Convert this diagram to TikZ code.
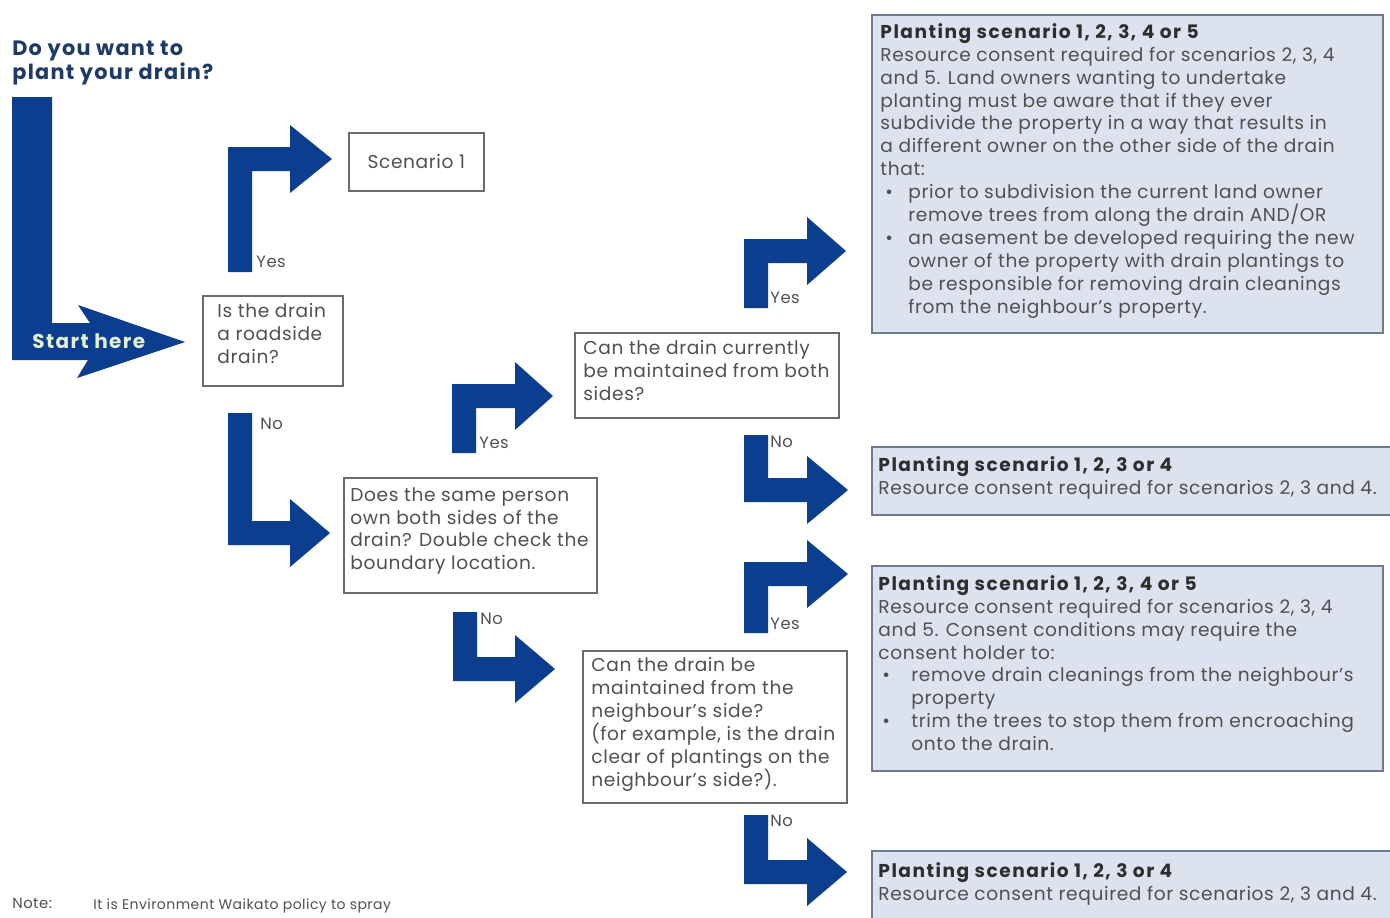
\documentclass[tikz,border=0pt]{standalone}
\usepackage{fontspec}
\setmainfont{Poppins}
\newfontfamily\bodyfont[LetterSpace=3.3,Ligatures=TeX]{Poppins}
\newfontfamily\headfont[LetterSpace=8,Ligatures=TeX]{Poppins}
\newfontfamily\titlefont[LetterSpace=6,Ligatures=TeX]{Poppins}
\newfontfamily\startfont[LetterSpace=7,Ligatures=TeX]{Poppins}
\usetikzlibrary{calc}
\definecolor{arrowblue}{HTML}{0B3E8E}
\definecolor{titlenavy}{HTML}{1E3A66}
\definecolor{txtgray}{HTML}{505050}
\definecolor{headgray}{HTML}{2E2E2E}
\definecolor{pfill}{HTML}{DDE2EF}
\definecolor{pborder}{HTML}{6F7A8E}
\definecolor{qborder}{HTML}{6A6A6A}
\definecolor{startgreen}{HTML}{E2F2D2}
\newcommand\yesarrow[5]{%
  \fill[arrowblue] (#1,#2) -- (#1,#3-12) -- (#4,#3-12) -- (#4,#3-34) -- (#5,#3)
    -- (#4,#3+34) -- (#4,#3+12) -- (#1+24,#3+12) -- (#1+24,#2) -- cycle;}
\newcommand\noarrow[5]{%
  \fill[arrowblue] (#1,#2) -- (#1,#3+12) -- (#4,#3+12) -- (#4,#3+34) -- (#5,#3)
    -- (#4,#3-34) -- (#4,#3-12) -- (#1+24,#3-12) -- (#1+24,#2) -- cycle;}
\newcommand\bul[1]{\makebox[2.5pt][l]{}\makebox[11.5pt][l]{\textbullet}#1}
\newcommand\bulc[1]{\hspace*{14pt}#1}
\newcommand\bulb[1]{\makebox[2pt][l]{}\makebox[14.5pt][l]{\textbullet}#1}
\newcommand\bulbc[1]{\hspace*{16.5pt}#1}
\newcommand\phd[1]{{\headfont\bfseries\color{headgray}#1}}
\begin{document}
\begin{tikzpicture}[x=0.5pt,y=-0.5pt,
  txt/.style={font=\bodyfont\fontsize{9.3}{11.45}\selectfont, text=txtgray, inner sep=0pt, align=left, anchor=north west},
  lbl/.style={font=\bodyfont\fontsize{8.2}{10}\selectfont, text=txtgray, inner sep=0pt, anchor=north west},
  qbox/.style={draw=qborder, line width=0.8pt, fill=white, anchor=north west, inner sep=0pt},
  pbox/.style={draw=pborder, line width=1pt, fill=pfill, anchor=north west, inner sep=0pt}]
\useasboundingbox (0,0) rectangle (1390,917);
\clip (0,0) rectangle (1390,917);
\fill[white] (0,0) rectangle (1390,917);

% title
\node[font=\titlefont\fontsize{10.4}{10.8}\selectfont\bfseries, text=titlenavy, inner sep=0pt, align=left, anchor=north west] (title) at (12,40) {Do you want to\\plant your drain?};

% start arrow
\fill[arrowblue] (12,97) -- (12,360) -- (88,360) -- (77,378) -- (185,342) -- (78,305) -- (90,323) -- (52,323) -- (52,97) -- cycle;
\node[font=\startfont\fontsize{10}{10}\selectfont\bfseries, text=startgreen, inner sep=0pt, anchor=west] (start) at (32,341) {Start here};

% question boxes
\node[qbox, minimum width=70pt, minimum height=45pt] (road) at (202,295) {};
\node[txt] (roadt) at ($(road.north west)+(15,8)$) {Is the drain\\a roadside\\drain?};

\node[qbox, minimum width=67.5pt, minimum height=29pt] (s1) at (348,132) {};
\node[txt, anchor=center] (s1t) at (s1.center) {Scenario 1};

\node[qbox, minimum width=132pt, minimum height=42.5pt] (both) at (574,332) {};
\node[txt] (botht) at ($(both.north west)+(9,8)$) {Can the drain currently\\be maintained from both\\sides?};

\node[qbox, minimum width=126.5pt, minimum height=57.5pt] (same) at (343,477) {};
\node[txt] (samet) at ($(same.north west)+(7,10)$) {Does the same person\\own both sides of the\\drain? Double check the\\boundary location.};

\node[qbox, minimum width=132pt, minimum height=76pt] (neigh) at (582,650) {};
\node[txt] (neight) at ($(neigh.north west)+(9,7)$) {Can the drain be\\maintained from the\\neighbour’s side?\\(for example, is the drain\\clear of plantings on the\\neighbour’s side?).};

% planting boxes
\node[pbox, minimum width=255.5pt, minimum height=159pt] (p1) at (871,14) {};
\node[txt] (p1t) at ($(p1.north west)+(9,9)$) {\phd{Planting scenario 1, 2, 3, 4 or 5}\\
Resource consent required for scenarios 2, 3, 4\\
and 5. Land owners wanting to undertake\\
planting must be aware that if they ever\\
subdivide the property in a way that results in\\
a different owner on the other side of the drain\\
that:\\
\bul{prior to subdivision the current land owner}\\
\bulc{remove trees from along the drain AND/OR}\\
\bul{an easement be developed requiring the new}\\
\bulc{owner of the property with drain plantings to}\\
\bulc{be responsible for removing drain cleanings}\\
\bulc{from the neighbour’s property.}};

\node[pbox, minimum width=262pt, minimum height=34pt] (p2) at (871,446) {};
\node[txt] (p2t) at ($(p2.north west)+(7,10)$) {\phd{Planting scenario 1, 2, 3 or 4}\\Resource consent required for scenarios 2, 3 and 4.};

\node[pbox, minimum width=255.5pt, minimum height=102.5pt] (p3) at (871,565) {};
\node[txt] (p3t) at ($(p3.north west)+(7,10)$) {\phd{Planting scenario 1, 2, 3, 4 or 5}\\
Resource consent required for scenarios 2, 3, 4\\
and 5. Consent conditions may require the\\
consent holder to:\\
\bulb{remove drain cleanings from the neighbour’s}\\
\bulbc{property}\\
\bulb{trim the trees to stop them from encroaching}\\
\bulbc{onto the drain.}};

\node[pbox, minimum width=262pt, minimum height=50pt] (p4) at (871,850) {};
\node[txt] (p4t) at ($(p4.north west)+(7,12)$) {\phd{Planting scenario 1, 2, 3 or 4}\\Resource consent required for scenarios 2, 3 and 4.};

% block arrows
\yesarrow{228}{272}{159}{290}{332}
\noarrow{228}{413}{533}{290}{330}
\yesarrow{452}{453}{396}{515}{553}
\noarrow{453}{612}{669}{515}{555}
\yesarrow{744}{308}{251}{807}{846}
\noarrow{744}{435}{490}{807}{848}
\yesarrow{744}{633}{574}{807}{848}
\noarrow{744}{815}{872}{807}{847}

% yes / no labels
\node[lbl] (y1) at (256,256) {Yes};
\node[lbl] (n1) at (260,418) {No};
\node[lbl] (y2) at (479,437) {Yes};
\node[lbl] (n2) at (480,613) {No};
\node[lbl] (y3) at (770,292) {Yes};
\node[lbl] (n3) at (770,436) {No};
\node[lbl] (y4) at (770,618) {Yes};
\node[lbl] (n4) at (770,815) {No};

% note
\node[txt, font=\bodyfont\fontsize{7.4}{9}\selectfont] (note) at (12,898) {Note:};
\node[txt, font=\bodyfont\fontsize{7}{9}\selectfont] (notet) at (93,898) {It is Environment Waikato policy to spray};
\end{tikzpicture}
\end{document}
